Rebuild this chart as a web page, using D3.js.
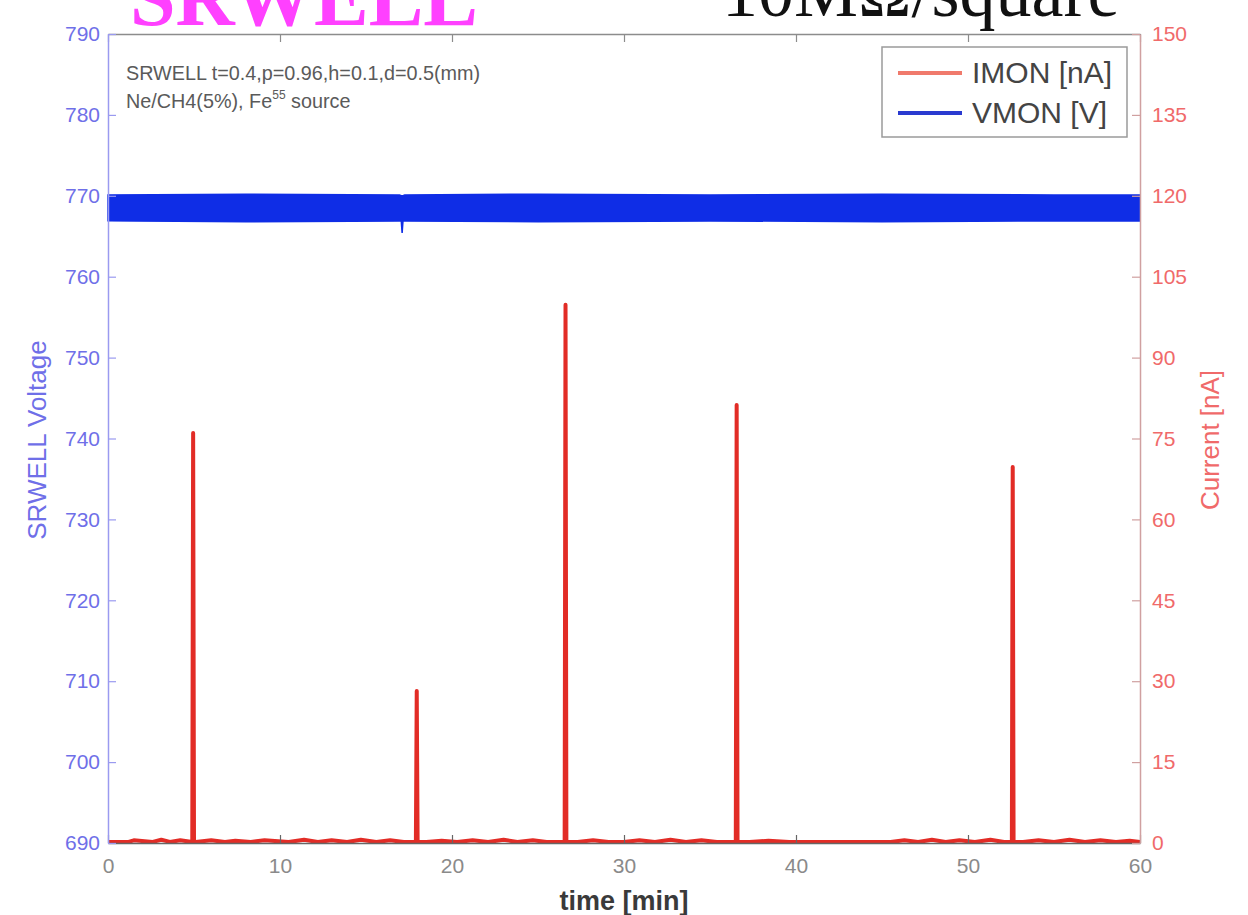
<!DOCTYPE html>
<html>
<head>
<meta charset="utf-8">
<script src="https://cdn.jsdelivr.net/npm/d3@7"></script>
<style>
  html, body { margin: 0; padding: 0; background: #ffffff; }
  svg { display: block; }
</style>
</head>
<body>
<svg id="chart" width="1248" height="915"></svg>
<script>
// Time axis (minutes) and tick values
const timeTicks = [0, 10, 20, 30, 40, 50, 60];
const voltageTicks = [690, 700, 710, 720, 730, 740, 750, 760, 770, 780, 790];
const currentTicks = [0, 15, 30, 45, 60, 75, 90, 105, 120, 135, 150];

// IMON: monitored current [nA] vs time [min]
const imonTime = [
  0, 1.2, 1.5, 2.6, 3.1, 3.6, 4.2, 4.9, 4.95, 5.0, 5.05, 5.1, 6.0, 6.8, 7.4, 8.3, 9.1,
  10.5, 11.4, 12.2, 13.0, 13.9, 14.7, 15.6, 16.4, 17.2, 17.9, 17.95, 18.0, 18.5, 19.4,
  20.3, 21.2, 22.1, 23.0, 23.8, 24.7, 25.5, 26.55, 26.6, 26.65, 27.3, 28.2, 29.1, 30.0,
  30.9, 31.8, 32.7, 33.6, 34.5, 35.4, 36.5, 36.55, 36.6, 37.3, 38.4, 39.6, 40.8, 42.0,
  43.2, 44.4, 45.5, 46.3, 47.1, 47.9, 48.7, 49.5, 50.4, 51.3, 52.1, 52.55, 52.6, 52.65,
  53.2, 54.1, 55.0, 55.9, 56.8, 57.7, 58.6, 59.4, 60
];
const imonValue = [
  0.2, 0.2, 0.5, 0.2, 0.6, 0.2, 0.5, 0.2, 76.0, 0.4, 0.2, 0.2, 0.5, 0.2, 0.4, 0.2, 0.5,
  0.2, 0.6, 0.2, 0.5, 0.2, 0.6, 0.2, 0.5, 0.2, 0.2, 28.2, 0.2, 0.2, 0.4,
  0.2, 0.5, 0.2, 0.6, 0.2, 0.5, 0.2, 0.2, 99.8, 0.2, 0.2, 0.5, 0.2, 0.2,
  0.5, 0.2, 0.6, 0.2, 0.5, 0.2, 0.2, 81.2, 0.2, 0.2, 0.4, 0.2, 0.2, 0.2,
  0.2, 0.2, 0.2, 0.5, 0.2, 0.6, 0.2, 0.5, 0.2, 0.6, 0.2, 0.2, 69.7, 0.2,
  0.2, 0.5, 0.2, 0.6, 0.2, 0.5, 0.2, 0.4, 0.2
];

// VMON: monitored voltage [V], fast ripple shown as its min/max envelope
const vmonTime = [0, 8, 16.95, 17.05, 17.1, 17.15, 17.25, 25, 35, 45, 55, 60];
const vmonHigh = [770.1, 770.2, 770.1, 770.0, 770.0, 770.0, 770.1, 770.2, 770.1, 770.2, 770.1, 770.1];
const vmonLow = [766.9, 766.8, 766.9, 766.9, 765.4, 766.9, 766.9, 766.8, 766.9, 766.8, 766.9, 766.9];

const legendLabels = ["IMON [nA]", "VMON [V]"];
const noteLines = ["SRWELL t=0.4,p=0.96,h=0.1,d=0.5(mm)", "Ne/CH4(5%), Fe", "55", " source"];

const svg = d3.select("#chart");
const L = 108, R = 1140, T = 34, B = 843;

const x = d3.scaleLinear().domain([0, 60]).range([L, R]);
const yV = d3.scaleLinear().domain([690, 790]).range([B, T]);
const yI = d3.scaleLinear().domain([0, 150]).range([B, T]);

const blue = "#0f2de6", red = "#e22c26";
const font = "'Liberation Sans', Arial, sans-serif";

// Slide headings partially cut at the top edge
svg.append("text").attr("x", 130).attr("y", 25)
  .attr("font-family", "'Liberation Serif', 'Times New Roman', serif")
  .attr("font-weight", "bold").attr("font-size", 82).attr("fill", "#ff40ff")
  .text("SRWELL");
svg.append("text").attr("x", 722).attr("y", 16)
  .attr("font-family", "'Liberation Serif', 'Times New Roman', serif")
  .attr("font-size", 72).attr("fill", "#111")
  .text("10MΩ/square");

// VMON band
svg.append("path")
  .datum(vmonTime.map((t, i) => [t, vmonLow[i], vmonHigh[i]]))
  .attr("fill", blue).attr("stroke", blue).attr("stroke-width", 1.5)
  .attr("d", d3.area().x(d => x(d[0])).y0(d => yV(d[1])).y1(d => yV(d[2])));

// IMON trace
svg.append("path")
  .datum(imonTime.map((t, i) => [t, imonValue[i]]))
  .attr("fill", "none").attr("stroke", red).attr("stroke-width", 4)
  .attr("stroke-linejoin", "round")
  .attr("d", d3.line().x(d => x(d[0])).y(d => yI(d[1])));

// Axes
function styleAxis(g, lineColor, textColor, size) {
  g.select(".domain").attr("stroke", lineColor).attr("stroke-width", 1.5);
  g.selectAll(".tick line").attr("stroke", lineColor).attr("stroke-width", 1.2);
  g.selectAll(".tick text").attr("fill", textColor)
    .attr("font-family", font).attr("font-size", size);
}

const gBottom = svg.append("g").attr("transform", `translate(0,${B})`)
  .call(d3.axisBottom(x).tickValues(timeTicks).tickSize(-8).tickPadding(15).tickSizeOuter(0));
styleAxis(gBottom, "#666", "#8a8a8a", 21);

const gTop = svg.append("g").attr("transform", `translate(0,${T})`)
  .call(d3.axisTop(x).tickValues(timeTicks).tickSize(-8).tickFormat("").tickSizeOuter(0));
styleAxis(gTop, "#8c8c8c", "#8a8a8a", 21);

const gLeft = svg.append("g").attr("transform", `translate(${L},0)`)
  .call(d3.axisLeft(yV).tickValues(voltageTicks).tickSize(-8).tickPadding(8).tickSizeOuter(0));
styleAxis(gLeft, "#9a9af0", "#6f6fe8", 21);

const gRight = svg.append("g").attr("transform", `translate(${R},0)`)
  .call(d3.axisRight(yI).tickValues(currentTicks).tickSize(-8).tickPadding(12).tickSizeOuter(0));
styleAxis(gRight, "#d0a0a0", "#f06a6a", 21);

// Axis titles
svg.append("text").attr("x", (L + R) / 2).attr("y", 910)
  .attr("text-anchor", "middle").attr("font-family", font)
  .attr("font-weight", "bold").attr("font-size", 27).attr("fill", "#3a3a3a")
  .text("time [min]");
svg.append("text").attr("transform", `translate(46,440) rotate(-90)`)
  .attr("text-anchor", "middle").attr("font-family", font)
  .attr("font-size", 26).attr("fill", "#6f6fe8")
  .text("SRWELL Voltage");
svg.append("text").attr("transform", `translate(1219,440) rotate(-90)`)
  .attr("text-anchor", "middle").attr("font-family", font)
  .attr("font-size", 26).attr("fill", "#f06a6a")
  .text("Current [nA]");

// Run conditions note
const note = svg.append("g").attr("font-family", font).attr("font-size", 19.8).attr("fill", "#5a5a5a");
note.append("text").attr("x", 126).attr("y", 80).text(noteLines[0]);
const n2 = note.append("text").attr("x", 126).attr("y", 108);
n2.append("tspan").text(noteLines[1]);
n2.append("tspan").attr("font-size", 12).attr("dy", -9).text(noteLines[2]);
n2.append("tspan").attr("dy", 9).text(noteLines[3]);

// Legend
const lg = svg.append("g");
lg.append("rect").attr("x", 882).attr("y", 47).attr("width", 245).attr("height", 90)
  .attr("fill", "#fff").attr("stroke", "#9a9a9a").attr("stroke-width", 1.5);
const legendColors = ["#f07a6c", "#2a3ad0"];
legendLabels.forEach((lab, i) => {
  const yy = 73 + i * 40;
  lg.append("line").attr("x1", 898).attr("x2", 962).attr("y1", yy).attr("y2", yy)
    .attr("stroke", legendColors[i]).attr("stroke-width", 4);
  lg.append("text").attr("x", 972).attr("y", yy + 10)
    .attr("font-family", font).attr("font-size", 30).attr("fill", "#444")
    .text(lab);
});
</script>
</body>
</html>
